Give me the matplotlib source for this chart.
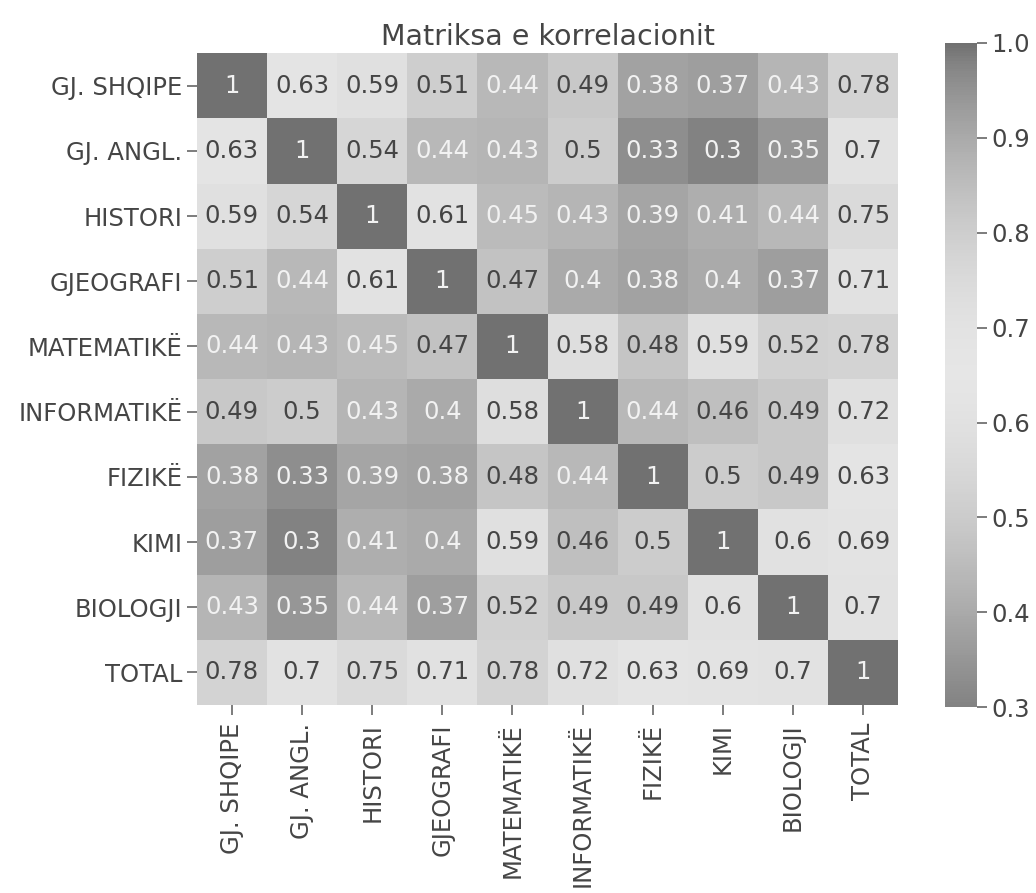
import numpy as np
import matplotlib
matplotlib.use("Agg")
import matplotlib.pyplot as plt
from matplotlib.colors import LinearSegmentedColormap

labels = ["GJ. SHQIPE", "GJ. ANGL.", "HISTORI", "GJEOGRAFI", "MATEMATIKË",
          "INFORMATIKË", "FIZIKË", "KIMI", "BIOLOGJI", "TOTAL"]

corr = [
    [1.00, 0.63, 0.59, 0.51, 0.44, 0.49, 0.38, 0.37, 0.43, 0.78],
    [0.63, 1.00, 0.54, 0.44, 0.43, 0.50, 0.33, 0.30, 0.35, 0.70],
    [0.59, 0.54, 1.00, 0.61, 0.45, 0.43, 0.39, 0.41, 0.44, 0.75],
    [0.51, 0.44, 0.61, 1.00, 0.47, 0.40, 0.38, 0.40, 0.37, 0.71],
    [0.44, 0.43, 0.45, 0.47, 1.00, 0.58, 0.48, 0.59, 0.52, 0.78],
    [0.49, 0.50, 0.43, 0.40, 0.58, 1.00, 0.44, 0.46, 0.49, 0.72],
    [0.38, 0.33, 0.39, 0.38, 0.48, 0.44, 1.00, 0.50, 0.49, 0.63],
    [0.37, 0.30, 0.41, 0.40, 0.59, 0.46, 0.50, 1.00, 0.60, 0.69],
    [0.43, 0.35, 0.44, 0.37, 0.52, 0.49, 0.49, 0.60, 1.00, 0.70],
    [0.78, 0.70, 0.75, 0.71, 0.78, 0.72, 0.63, 0.69, 0.70, 1.00],
]

title = "Matriksa e korrelacionit"
vmin, vmax = 0.3, 1.0
cbar_ticks = [0.3, 0.4, 0.5, 0.6, 0.7, 0.8, 0.9, 1.0]

# grayscale version of coolwarm
base = plt.get_cmap("coolwarm")(np.linspace(0, 1, 256))[:, :3]
lum = base @ np.array([0.299, 0.587, 0.114])
g = np.clip(0.27 + 0.73 * lum, 0, 1)
cmap = LinearSegmentedColormap.from_list("graywarm", np.stack([g, g, g], axis=1))

data = np.array(corr)
n = len(labels)
TXT = "#454545"

fig = plt.figure(figsize=(10.36, 8.93), dpi=100)
ax = fig.add_axes([0.190, 0.2105, 0.677, 0.730])
cax = fig.add_axes([0.912, 0.208, 0.031, 0.744])

mesh = ax.pcolormesh(np.arange(n + 1), np.arange(n + 1), data, cmap=cmap,
                     vmin=vmin, vmax=vmax)
ax.set_xlim(0, n)
ax.set_ylim(n, 0)
for i in range(n):
    for j in range(n):
        v = data[i, j]
        col = "#f2f2f2" if (v <= 0.45 or v >= 0.9) else TXT
        ax.text(j + 0.5, i + 0.5, f"{v:.2g}", ha="center", va="center",
                fontsize=17.5, color=col)

ax.set_xticks(np.arange(n) + 0.5)
ax.set_yticks(np.arange(n) + 0.5)
ax.set_xticklabels(labels, rotation=90, fontsize=17.5, color=TXT)
ax.set_yticklabels(labels, rotation=0, fontsize=17.5, color=TXT)
ax.tick_params(length=7, width=1.2, color="#666666")
ax.tick_params(axis="x", pad=6)
for s in ax.spines.values():
    s.set_visible(False)
ax.set_title(title, fontsize=20.5, color=TXT, pad=6)

cb = fig.colorbar(mesh, cax=cax, ticks=cbar_ticks)
cb.outline.set_visible(False)
cb.ax.tick_params(labelsize=17.5, labelcolor=TXT, length=7, width=1.2, color="#666666")
cb.ax.set_yticklabels([f"{t:.1f}" for t in cbar_ticks])

fig.savefig("out.png", dpi=100)
